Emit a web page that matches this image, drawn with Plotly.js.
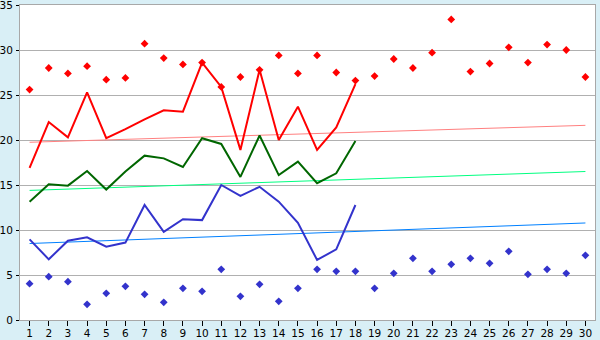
<!DOCTYPE html>
<html>
<head>
<meta charset="utf-8">
<script src="https://cdn.plot.ly/plotly-3.0.1.min.js"></script>
<style>html,body{margin:0;padding:0;background:#d9eff6;}</style>
</head>
<body>
<div id="chart" style="width:600px;height:340px;"></div>
<script>
const days = Array.from({length: 30}, (_, i) => i + 1);
const lineDays = days.slice(0, 18);

const redMarkers = [25.6, 28.0, 27.4, 28.2, 26.7, 26.9, 30.7, 29.1, 28.4, 28.6, 25.9, 27.0, 27.8, 29.4, 27.4, 29.4, 27.5, 26.6, 27.1, 29.0, 28.0, 29.7, 33.4, 27.6, 28.5, 30.3, 28.6, 30.6, 30.0, 27.0];
const redLine = [16.9, 22.0, 20.3, 25.3, 20.2, 21.2, 22.3, 23.3, 23.15, 28.6, 25.9, 18.9, 27.8, 20.0, 23.7, 18.9, 21.4, 26.2];
const greenLine = [13.15, 15.07, 14.93, 16.56, 14.5, 16.5, 18.26, 17.96, 17.0, 20.2, 19.56, 15.9, 20.5, 16.1, 17.6, 15.2, 16.3, 19.9];
const blueLine = [8.96, 6.74, 8.81, 9.19, 8.15, 8.6, 12.78, 9.8, 11.2, 11.1, 15.0, 13.8, 14.8, 13.15, 10.8, 6.67, 7.85, 12.78];
const blueMarkers = [4.04, 4.81, 4.26, 1.74, 2.96, 3.74, 2.85, 1.96, 3.52, 3.19, 5.63, 2.63, 3.96, 2.07, 3.52, 5.63, 5.41, 5.41, 3.52, 5.19, 6.85, 5.41, 6.19, 6.85, 6.3, 7.63, 5.07, 5.63, 5.19, 7.19];

const trendX = [1, 30];
const redTrend = [19.75, 21.63];
const greenTrend = [14.4, 16.5];
const blueTrend = [8.5, 10.78];

const traces = [
  {x: trendX, y: redTrend, mode: 'lines', line: {color: '#ff8080', width: 1}},
  {x: trendX, y: greenTrend, mode: 'lines', line: {color: '#00ff80', width: 1}},
  {x: trendX, y: blueTrend, mode: 'lines', line: {color: '#0080ff', width: 1}},
  {x: lineDays, y: redLine, mode: 'lines', line: {color: '#ff0000', width: 2}},
  {x: lineDays, y: greenLine, mode: 'lines', line: {color: '#006600', width: 2}},
  {x: lineDays, y: blueLine, mode: 'lines', line: {color: '#3333cc', width: 2}},
  {x: days, y: redMarkers, mode: 'markers', marker: {symbol: 'diamond', size: 6, color: '#ff0000'}},
  {x: days, y: blueMarkers, mode: 'markers', marker: {symbol: 'diamond', size: 6, color: '#3333cc'}}
];

const layout = {
  width: 600, height: 340,
  margin: {l: 20, r: 5, t: 5, b: 20, pad: 0},
  paper_bgcolor: '#d9eff6',
  plot_bgcolor: '#ffffff',
  showlegend: false,
  font: {family: 'DejaVu Sans, Verdana, sans-serif', size: 10.5, color: '#000000'},
  xaxis: {
    range: [0.5, 30.5], tickvals: days, ticktext: days.map(String),
    ticks: 'outside', ticklen: 5, tickcolor: '#000000', tickwidth: 1,
    ticklabelstandoff: -2, ticklabeloverflow: 'allow',
    showgrid: false, zeroline: false,
    showline: true, linecolor: '#a8a8a8', linewidth: 1, mirror: true,
    fixedrange: true
  },
  yaxis: {
    range: [0, 35], dtick: 5, tick0: 0,
    ticks: 'outside', ticklen: 3, tickcolor: '#000000', tickwidth: 1,
    ticklabelstandoff: 1, ticklabeloverflow: 'allow',
    showgrid: true, gridcolor: '#b0b0b0', gridwidth: 1, zeroline: false,
    showline: true, linecolor: '#a8a8a8', linewidth: 1, mirror: true,
    fixedrange: true
  }
};

Plotly.newPlot('chart', traces, layout, {displayModeBar: false, staticPlot: true});
</script>
</body>
</html>
